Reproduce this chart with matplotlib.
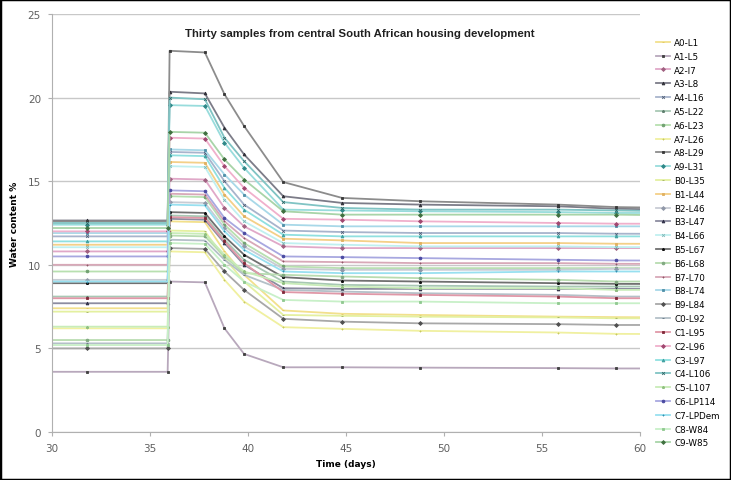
# Water content of thirty soil samples, wetting/drying test
import matplotlib.pyplot as plt
from matplotlib.patches import Rectangle

# sample names, legend order
samples = ["A0-L1", "A1-L5", "A2-I7", "A3-L8", "A4-L16", "A5-L22", "A6-L23", "A7-L26", "A8-L29", "A9-L31",
           "B0-L35", "B1-L44", "B2-L46", "B3-L47", "B4-L66", "B5-L67", "B6-L68", "B7-L70", "B8-L74", "B9-L84",
           "C0-L92", "C1-L95", "C2-L96", "C3-L97", "C4-L106", "C5-L107", "C6-LP114", "C7-LPDem", "C8-W84", "C9-W85"]

# measurement times (days)
days = [28, 31.8, 35.9, 36.0, 37.8, 38.8, 39.8, 41.8, 44.8, 48.8, 55.8, 58.8, 62]

# water content % for each sample at each time
w_before = [7.4, 3.6, 10.8, 12.65, 11.7, 8.1, 9.6, 6.2, 12.6, 12.4,
            7.2, 11.2, 9.1, 7.7, 11.05, 8.9, 5.5, 10.0, 11.9, 5.0,
            5.3, 8.0, 12.0, 11.4, 12.5, 6.3, 10.5, 9.0, 5.2, 12.2]
w_36 = [12.6, 9.0, 15.15, 20.35, 16.75, 12.95, 14.1, 10.8, 22.8, 19.55,
        12.05, 16.15, 13.75, 12.75, 15.9, 13.15, 11.75, 14.25, 16.9, 11.0,
        11.5, 12.85, 17.6, 16.55, 20.0, 11.9, 14.45, 13.6, 11.3, 17.95]
w_378 = [12.55, 8.95, 15.1, 20.25, 16.7, 12.9, 14.05, 10.75, 22.7, 19.5,
         12.0, 16.1, 13.7, 12.7, 15.85, 13.1, 11.7, 14.2, 16.85, 10.95,
         11.45, 12.8, 17.55, 16.5, 19.9, 11.85, 14.4, 13.55, 11.25, 17.9]
w_388 = [10.8, 6.2, 13.4, 18.2, 15.0, 11.5, 12.4, 9.1, 20.2, 17.3,
         10.4, 14.2, 12.2, 11.3, 13.9, 11.7, 10.5, 12.6, 15.4, 9.6,
         10.3, 11.4, 15.9, 14.6, 17.6, 10.6, 12.8, 12.0, 10.0, 16.3]
w_398 = [9.4, 4.67, 12.3, 16.6, 13.6, 10.3, 11.3, 7.8, 18.3, 15.8,
         9.0, 12.9, 11.1, 10.0, 12.6, 10.6, 9.5, 11.6, 14.2, 8.5,
         9.4, 10.1, 14.6, 13.3, 16.2, 9.6, 11.9, 10.9, 9.0, 15.1]
w_418 = [7.27, 3.87, 11.1, 14.1, 12.05, 9.0, 9.9, 6.27, 14.95, 13.3,
         7.0, 11.56, 9.76, 8.6, 11.3, 9.26, 9.4, 10.2, 12.4, 6.77,
         8.5, 8.37, 12.75, 11.8, 13.75, 8.9, 10.5, 9.6, 7.9, 13.2]
w_448 = [7.07, 3.87, 11.0, 13.7, 11.96, 8.8, 9.8, 6.17, 14.0, 13.25,
         6.95, 11.46, 9.7, 8.56, 11.2, 9.06, 9.3, 10.16, 12.3, 6.6,
         8.4, 8.27, 12.7, 11.7, 13.4, 8.7, 10.46, 9.5, 7.8, 13.0]
w_488 = [7.0, 3.85, 11.0, 13.6, 11.9, 8.75, 9.8, 6.05, 13.8, 13.2,
         6.9, 11.3, 9.7, 8.56, 11.1, 9.0, 9.2, 10.1, 12.3, 6.5,
         8.3, 8.2, 12.6, 11.7, 13.3, 8.6, 10.4, 9.5, 7.8, 13.0]
w_558 = [6.9, 3.82, 11.0, 13.5, 11.9, 8.7, 9.8, 5.95, 13.6, 13.15,
         6.85, 11.3, 9.7, 8.56, 11.1, 8.9, 9.1, 10.1, 12.3, 6.45,
         8.2, 8.1, 12.5, 11.7, 13.3, 8.6, 10.3, 9.6, 7.7, 13.0]
w_588 = [6.87, 3.8, 11.0, 13.35, 11.86, 8.7, 9.8, 5.87, 13.45, 13.1,
         6.8, 11.26, 9.76, 8.56, 11.06, 8.86, 9.0, 10.06, 12.3, 6.4,
         8.1, 8.0, 12.46, 11.7, 13.25, 8.5, 10.26, 9.6, 7.7, 13.0]
w_62 = [6.85, 3.8, 11.0, 13.3, 11.85, 8.7, 9.8, 5.85, 13.4, 13.1,
        6.8, 11.25, 9.76, 8.55, 11.05, 8.85, 9.0, 10.05, 12.3, 6.4,
        8.1, 8.0, 12.45, 11.7, 13.2, 8.5, 10.25, 9.6, 7.7, 12.95]

line_colors = ["#f2e08c", "#b8a8bc", "#e0a8c8", "#7c7c88", "#a8b4cc", "#a8c8b4", "#b8e0b0", "#f0f0a0", "#8c8c8c", "#98dcdc",
               "#e4f0a0", "#f4d088", "#c8ccd4", "#8c8ca0", "#c0f0f0", "#707070", "#b8dcb0", "#d8a8b8", "#a8d8e8", "#a8a8a8",
               "#b4c0c8", "#e098a8", "#f0b0cc", "#90e0e0", "#80c4c4", "#c8ecb8", "#a8a8e0", "#98e0f0", "#c8f0c8", "#a8d4a8"]
marker_colors = ["#e0c860", "#404040", "#a06080", "#303038", "#506078", "#608070", "#70a070", "#c8c860", "#383838", "#308888",
                 "#a0b060", "#e0b060", "#9098a8", "#303048", "#80b8b8", "#101010", "#80a880", "#905868", "#5090a8", "#505050",
                 "#607080", "#802838", "#a04870", "#40a0a0", "#306868", "#90c080", "#4848a0", "#3090b0", "#90c890", "#407040"]
markers = ["_", "s", "D", "^", "x", "*", "o", "+", "s", "D"] * 3

cols = [w_before, w_before, w_before, w_36, w_378, w_388, w_398, w_418, w_448, w_488, w_558, w_588, w_62]

fig = plt.figure(figsize=(7.31, 4.81), dpi=100)
ax = fig.add_axes([52/731, 48/481, 588/731, 418/481])

for i, name in enumerate(samples):
    vals = [c[i] for c in cols]
    ax.plot(days, vals, color=line_colors[i], lw=1.3, marker=markers[i], ms=2.0,
            mec=marker_colors[i], mfc=marker_colors[i], mew=0.6, label=name)

ax.set_xlim(30, 60)
ax.set_ylim(0, 25)
ax.set_xticks(range(30, 61, 5))
ax.set_yticks(range(0, 26, 5))
ax.grid(axis="y", color="#c8c8c8", lw=1)
ax.set_axisbelow(True)
for s in ["top", "right"]:
    ax.spines[s].set_visible(False)
for s in ["left", "bottom"]:
    ax.spines[s].set_color("#b0b0b0")
ax.tick_params(colors="#b0b0b0", labelcolor="#606060", labelsize=7.5, length=3, pad=5)

ax.text(0.524, 0.955, "Thirty samples from central South African housing development",
        transform=ax.transAxes, ha="center", va="center", fontsize=8.2,
        fontweight="bold", family="Liberation Sans", color="#202020")
ax.set_xlabel("Time (days)", fontsize=6.5, fontweight="bold", labelpad=4)
ax.set_ylabel("Water content %", fontsize=6.5, fontweight="bold", labelpad=6)

fig.legend(loc="upper left", bbox_to_anchor=(648/731, 1 - 31/481), frameon=False,
           fontsize=6.3, handlelength=1.6, labelspacing=0.55, handletextpad=0.5)

fig.patches.append(Rectangle((0, 0), 1, 1, transform=fig.transFigure, fill=False,
                             edgecolor="black", lw=2.5))

fig.savefig("out.png", dpi=100)
